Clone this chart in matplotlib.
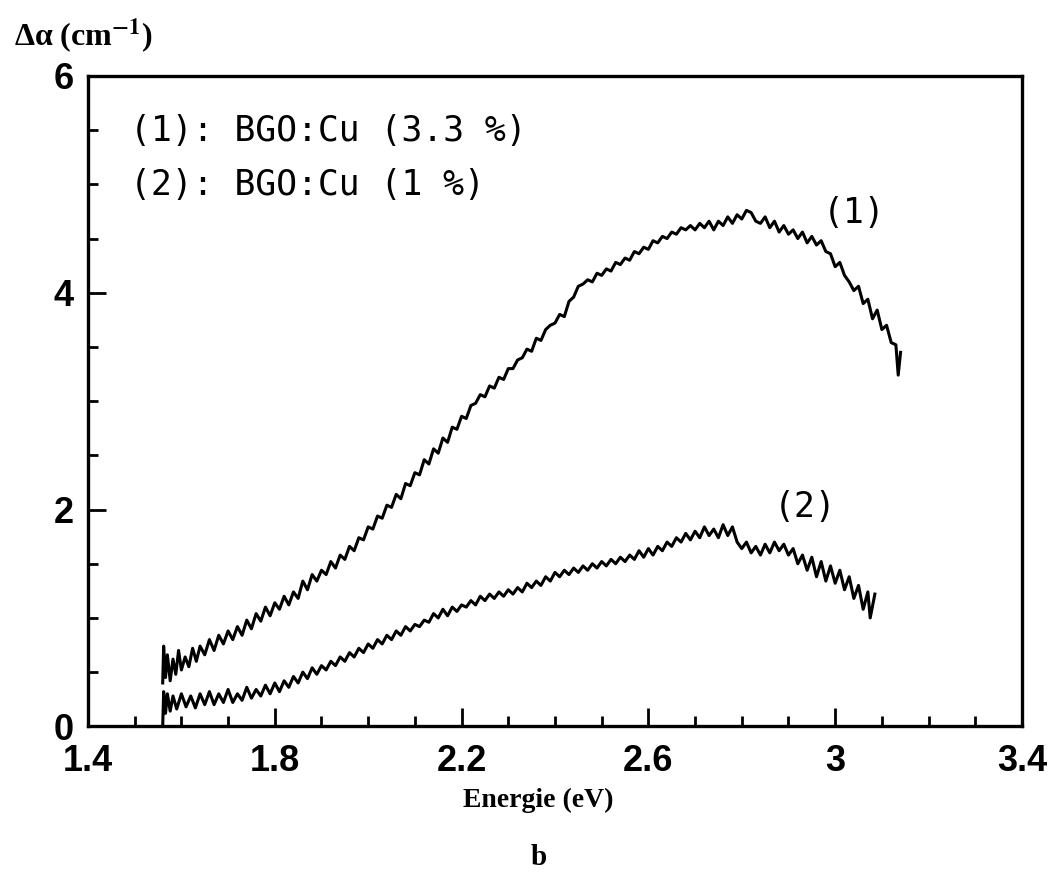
import numpy as np
import matplotlib.pyplot as plt
from matplotlib.ticker import MultipleLocator

plt.rcParams['mathtext.fontset'] = 'stix'

# curve (1): BGO:Cu 3.3 %  -- energy (eV), delta alpha (cm-1)
energy_1 = [1.560, 1.562, 1.566, 1.570, 1.576, 1.582, 1.588, 1.594, 1.600, 1.608, 1.616, 1.624, 1.632, 1.640,
            1.650, 1.660, 1.670, 1.680, 1.690, 1.700, 1.710, 1.720, 1.730, 1.740, 1.750, 1.760, 1.770, 1.780,
            1.790, 1.800, 1.810, 1.820, 1.830, 1.840, 1.850, 1.860, 1.870, 1.880, 1.890, 1.900, 1.910, 1.920,
            1.930, 1.940, 1.950, 1.960, 1.970, 1.980, 1.990, 2.000, 2.010, 2.020, 2.030, 2.040, 2.050, 2.060,
            2.070, 2.080, 2.090, 2.100, 2.110, 2.120, 2.130, 2.140, 2.150, 2.160, 2.170, 2.180, 2.190, 2.200,
            2.210, 2.220, 2.230, 2.240, 2.250, 2.260, 2.270, 2.280, 2.290, 2.300, 2.310, 2.320, 2.330, 2.340,
            2.350, 2.360, 2.370, 2.380, 2.390, 2.400, 2.410, 2.420, 2.430, 2.440, 2.450, 2.460, 2.470, 2.480,
            2.490, 2.500, 2.510, 2.520, 2.530, 2.540, 2.550, 2.560, 2.570, 2.580, 2.590, 2.600, 2.610, 2.620,
            2.630, 2.640, 2.650, 2.660, 2.670, 2.680, 2.690, 2.700, 2.710, 2.720, 2.730, 2.740, 2.750, 2.760,
            2.770, 2.780, 2.790, 2.800, 2.810, 2.820, 2.830, 2.840, 2.850, 2.860, 2.870, 2.880, 2.890, 2.900,
            2.910, 2.920, 2.930, 2.940, 2.950, 2.960, 2.970, 2.980, 2.990, 3.000, 3.010, 3.020, 3.030, 3.040,
            3.050, 3.060, 3.070, 3.080, 3.090, 3.100, 3.110, 3.120, 3.130, 3.135, 3.140]
alpha_1 = [0.40, 0.74, 0.45, 0.66, 0.42, 0.62, 0.48, 0.70, 0.52, 0.64, 0.55, 0.72, 0.60, 0.74,
           0.66, 0.80, 0.70, 0.84, 0.76, 0.88, 0.80, 0.92, 0.84, 0.98, 0.90, 1.04, 0.97, 1.10,
           1.02, 1.14, 1.08, 1.20, 1.12, 1.24, 1.18, 1.34, 1.26, 1.40, 1.34, 1.44, 1.40, 1.52,
           1.46, 1.58, 1.54, 1.66, 1.62, 1.74, 1.72, 1.84, 1.82, 1.94, 1.92, 2.04, 2.02, 2.14,
           2.10, 2.24, 2.22, 2.34, 2.32, 2.46, 2.42, 2.56, 2.52, 2.66, 2.62, 2.76, 2.74, 2.86,
           2.84, 2.96, 2.98, 3.06, 3.04, 3.14, 3.12, 3.22, 3.20, 3.30, 3.30, 3.38, 3.40, 3.48,
           3.46, 3.58, 3.56, 3.66, 3.70, 3.72, 3.80, 3.78, 3.92, 3.96, 4.06, 4.08, 4.12, 4.10,
           4.18, 4.16, 4.22, 4.20, 4.28, 4.26, 4.32, 4.30, 4.38, 4.36, 4.42, 4.40, 4.48, 4.46,
           4.52, 4.50, 4.56, 4.54, 4.60, 4.58, 4.62, 4.58, 4.64, 4.60, 4.66, 4.58, 4.66, 4.62,
           4.70, 4.64, 4.72, 4.68, 4.76, 4.74, 4.66, 4.64, 4.70, 4.60, 4.66, 4.56, 4.62, 4.54,
           4.58, 4.50, 4.56, 4.46, 4.52, 4.44, 4.48, 4.38, 4.36, 4.24, 4.28, 4.16, 4.10, 4.02,
           4.06, 3.90, 3.94, 3.76, 3.84, 3.66, 3.70, 3.54, 3.52, 3.24, 3.45]

# curve (2): BGO:Cu 1 %
energy_2 = [1.560, 1.562, 1.566, 1.570, 1.576, 1.582, 1.590, 1.600, 1.610, 1.620, 1.630, 1.640, 1.650, 1.660,
            1.670, 1.680, 1.690, 1.700, 1.710, 1.720, 1.730, 1.740, 1.750, 1.760, 1.770, 1.780, 1.790, 1.800,
            1.810, 1.820, 1.830, 1.840, 1.850, 1.860, 1.870, 1.880, 1.890, 1.900, 1.910, 1.920, 1.930, 1.940,
            1.950, 1.960, 1.970, 1.980, 1.990, 2.000, 2.010, 2.020, 2.030, 2.040, 2.050, 2.060, 2.070, 2.080,
            2.090, 2.100, 2.110, 2.120, 2.130, 2.140, 2.150, 2.160, 2.170, 2.180, 2.190, 2.200, 2.210, 2.220,
            2.230, 2.240, 2.250, 2.260, 2.270, 2.280, 2.290, 2.300, 2.310, 2.320, 2.330, 2.340, 2.350, 2.360,
            2.370, 2.380, 2.390, 2.400, 2.410, 2.420, 2.430, 2.440, 2.450, 2.460, 2.470, 2.480, 2.490, 2.500,
            2.510, 2.520, 2.530, 2.540, 2.550, 2.560, 2.570, 2.580, 2.590, 2.600, 2.610, 2.620, 2.630, 2.640,
            2.650, 2.660, 2.670, 2.680, 2.690, 2.700, 2.710, 2.720, 2.730, 2.740, 2.750, 2.760, 2.770, 2.780,
            2.790, 2.800, 2.810, 2.820, 2.830, 2.840, 2.850, 2.860, 2.870, 2.880, 2.890, 2.900, 2.910, 2.920,
            2.930, 2.940, 2.950, 2.960, 2.970, 2.980, 2.990, 3.000, 3.010, 3.020, 3.030, 3.040, 3.050, 3.060,
            3.070, 3.075, 3.085]
alpha_2 = [0.00, 0.32, 0.12, 0.30, 0.14, 0.28, 0.16, 0.30, 0.18, 0.28, 0.17, 0.30, 0.20, 0.32,
           0.20, 0.30, 0.22, 0.34, 0.22, 0.30, 0.24, 0.36, 0.26, 0.34, 0.28, 0.38, 0.30, 0.40,
           0.32, 0.42, 0.36, 0.46, 0.40, 0.50, 0.44, 0.54, 0.48, 0.56, 0.52, 0.60, 0.56, 0.64,
           0.60, 0.68, 0.64, 0.72, 0.68, 0.76, 0.72, 0.80, 0.76, 0.84, 0.80, 0.88, 0.84, 0.92,
           0.88, 0.94, 0.92, 0.98, 0.96, 1.04, 1.00, 1.08, 1.02, 1.10, 1.06, 1.12, 1.10, 1.16,
           1.12, 1.20, 1.16, 1.22, 1.18, 1.24, 1.20, 1.26, 1.22, 1.28, 1.24, 1.32, 1.28, 1.34,
           1.30, 1.38, 1.34, 1.42, 1.38, 1.44, 1.40, 1.46, 1.42, 1.48, 1.44, 1.50, 1.46, 1.52,
           1.48, 1.54, 1.50, 1.56, 1.52, 1.58, 1.54, 1.62, 1.56, 1.64, 1.58, 1.66, 1.62, 1.70,
           1.66, 1.74, 1.70, 1.78, 1.72, 1.80, 1.74, 1.84, 1.76, 1.82, 1.74, 1.86, 1.76, 1.84,
           1.70, 1.64, 1.70, 1.60, 1.66, 1.58, 1.68, 1.60, 1.70, 1.62, 1.68, 1.58, 1.64, 1.50,
           1.58, 1.44, 1.56, 1.38, 1.52, 1.34, 1.48, 1.32, 1.44, 1.26, 1.38, 1.18, 1.30, 1.08,
           1.24, 1.00, 1.22]

x_ticks = [1.4, 1.8, 2.2, 2.6, 3.0, 3.4]
x_tick_labels = ['1.4', '1.8', '2.2', '2.6', '3', '3.4']
y_ticks = [0, 2, 4, 6]

fig = plt.figure(figsize=(10.5, 8.73), dpi=100)
ax = fig.add_axes([0.0838, 0.168, 0.8895, 0.745])

ax.plot(energy_1, alpha_1, color='black', linewidth=2.2)
ax.plot(energy_2, alpha_2, color='black', linewidth=2.2)

ax.set_xlim(1.4, 3.4)
ax.set_ylim(0, 6)

ax.xaxis.set_minor_locator(MultipleLocator(0.1))
ax.yaxis.set_minor_locator(MultipleLocator(0.5))
ax.set_xticks(x_ticks)
ax.set_xticklabels(x_tick_labels)
ax.set_yticks(y_ticks)

ax.tick_params(which='both', direction='in', top=False, right=False, width=2, color='black')
ax.tick_params(which='major', length=13)
ax.tick_params(axis='x', which='major', pad=13)
ax.tick_params(axis='y', which='major', pad=10)
ax.tick_params(which='minor', length=7)
for lab in ax.get_xticklabels() + ax.get_yticklabels():
    lab.set_fontfamily('Liberation Sans')
    lab.set_fontweight('bold')
    lab.set_fontsize(26)

for side in ax.spines.values():
    side.set_linewidth(2.4)

# legend-like text in the box
ax.text(0.045, 0.915, '(1): BGO:Cu (3.3 %)', transform=ax.transAxes, family='DejaVu Sans Mono',
        fontsize=25, va='center', ha='left')
ax.text(0.045, 0.832, '(2): BGO:Cu (1 %)', transform=ax.transAxes, family='DejaVu Sans Mono',
        fontsize=25, va='center', ha='left')

ax.text(3.04, 4.74, '(1)', family='DejaVu Sans Mono', fontsize=25, ha='center', va='center')
ax.text(2.935, 2.02, '(2)', family='DejaVu Sans Mono', fontsize=25, ha='center', va='center')

fig.text(0.013, 0.958, 'Δα (cm$^{\\mathbf{-1}}$)', family='Liberation Serif',
         fontsize=23, fontweight='bold', ha='left', va='center')
fig.text(0.513, 0.083, 'Energie (eV)', family='Liberation Serif', fontsize=20, fontweight='bold',
         ha='center', va='center')
fig.text(0.513, 0.018, 'b', family='Liberation Serif', fontsize=21, fontweight='bold',
         ha='center', va='center')

fig.savefig('out.png', dpi=100)
